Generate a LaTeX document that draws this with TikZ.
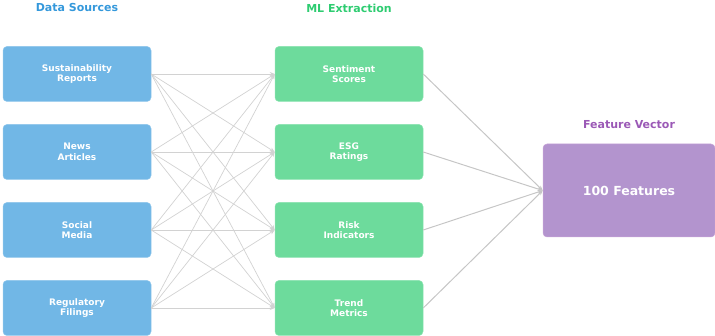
\documentclass[tikz,border=0pt]{standalone}
\usepackage{fontspec}
\setmainfont{DejaVu Sans}
\usetikzlibrary{arrows.meta, positioning}

\definecolor{srcblue}{HTML}{3498DB}
\definecolor{mlgreen}{HTML}{2ECC71}
\definecolor{vecpurple}{HTML}{9B59B6}
\definecolor{vecfill}{HTML}{B394CE}

\tikzset{
  box/.style={rounded corners=4pt, minimum width=148pt, minimum height=55pt,
    align=center, text=white, line width=0.5pt,
    font=\bfseries\fontsize{9}{10.5}\selectfont},
  srcbox/.style={box, fill=srcblue!70, draw=srcblue!55},
  mlbox/.style={box, fill=mlgreen!70, draw=mlgreen!55},
  vecbox/.style={box, fill=vecfill, draw=vecpurple!55,
    minimum width=172pt, minimum height=93pt,
    font=\bfseries\fontsize{12.5}{14}\selectfont},
  heading/.style={font=\bfseries\fontsize{11}{13}\selectfont},
  link/.style={gray!35, line width=0.7pt, -{Stealth[length=5pt, width=4pt]}},
  fuse/.style={gray!45, line width=1pt, -{Stealth[length=5pt, width=4pt]}}
}

\begin{document}
\begin{tikzpicture}[x=1pt, y=-1pt]
\useasboundingbox (0,0) rectangle (715,336);

% column headings
\node[heading, text=srcblue] (hsrc) at (77,8) {Data Sources};
\node[heading, text=mlgreen] (hml) at (349,8) {ML Extraction};
\node[heading, text=vecpurple] (hvec) at (629,125) {Feature Vector};

% data sources
\node[srcbox] (s1) at (77,74) {Sustainability\\Reports};
\node[srcbox] (s2) at (77,152) {News\\Articles};
\node[srcbox] (s3) at (77,230) {Social\\Media};
\node[srcbox] (s4) at (77,308) {Regulatory\\Filings};

% extraction models
\node[mlbox] (m1) at (349,74) {Sentiment\\Scores};
\node[mlbox] (m2) at (349,152) {ESG\\Ratings};
\node[mlbox] (m3) at (349,230) {Risk\\Indicators};
\node[mlbox] (m4) at (349,308) {Trend\\Metrics};

% output
\node[vecbox] (vec) at (629,190.5) {100 Features};

% every source feeds every model
\begin{scope}[on background layer/.try]
\foreach \i in {1,...,4} {
  \foreach \j in {1,...,4} {
    \draw[link] (s\i.east) -- (m\j.west);
  }
  \draw[fuse] (m\i.east) -- (vec.west);
}
\end{scope}
\end{tikzpicture}
\end{document}
